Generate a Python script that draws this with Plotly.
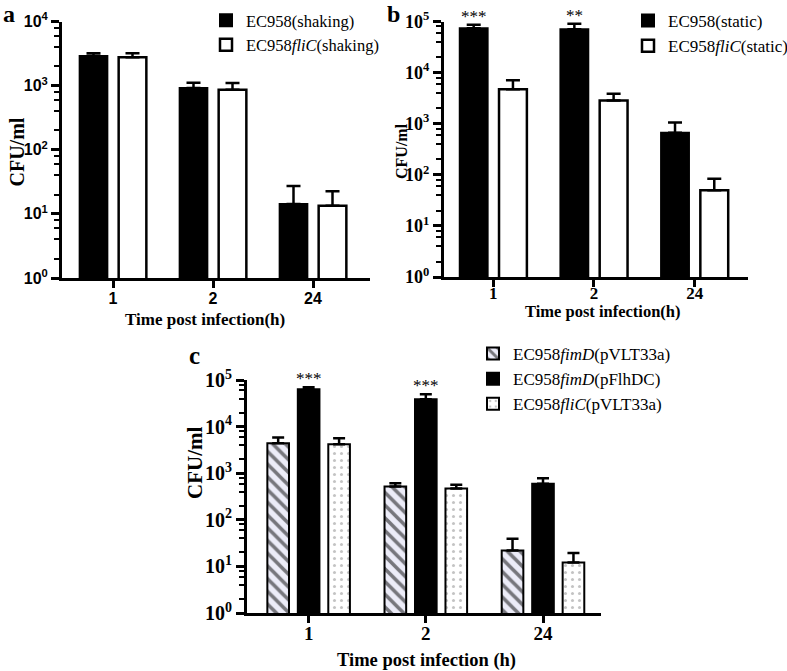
import math
import plotly.graph_objects as go

W, H = 787, 671

times = ["1", "2", "24"]

# Panel a (shaking)
a_wt = [2900, 920, 14.2]
a_wt_sem = [300, 190, 13]
a_flic = [2780, 865, 13.4]
a_flic_sem = [420, 235, 9.2]

# Panel b (static)
b_wt = [74000, 70800, 667]
b_wt_sem = [12000, 19200, 393]
b_flic = [4720, 2830, 50]
b_flic_sem = [2360, 1040, 34]
b_sig = ["***", "**", ""]

# Panel c
c_fimd_vec = [4400, 519, 22]
c_fimd_vec_sem = [1400, 93, 17]
c_fimd_flhdc = [63000, 38500, 591]
c_fimd_flhdc_sem = [7000, 10800, 191]
c_flic_vec = [4190, 470, 12.2]
c_flic_vec_sem = [1430, 94, 7.1]
c_sig = ["***", "***", ""]

SERIF = "Liberation Serif"
SANS = "Liberation Sans"
BARGAP, GROUPGAP = 0.22, 0.29


def px_x(p):
    return p / W


def px_y(p):
    return 1 - p / H


def err(sem, w=7):
    return dict(type="data", symmetric=False, array=sem, arrayminus=[0] * len(sem),
                color="black", thickness=2.5, width=w)


fig = go.Figure()

# ---- panel a
fig.add_trace(go.Bar(x=times, y=a_wt, error_y=err(a_wt_sem), name="EC958(shaking)",
                     marker=dict(color="black", line=dict(color="black", width=2)),
                     xaxis="x", yaxis="y", legend="legend", offsetgroup="a1"))
fig.add_trace(go.Bar(x=times, y=a_flic, error_y=err(a_flic_sem), name="EC958<i>fliC</i>(shaking)",
                     marker=dict(color="white", line=dict(color="black", width=2.5)),
                     xaxis="x", yaxis="y", legend="legend", offsetgroup="a2"))

# ---- panel b
fig.add_trace(go.Bar(x=times, y=b_wt, error_y=err(b_wt_sem), name="EC958(static)",
                     marker=dict(color="black", line=dict(color="black", width=2)),
                     xaxis="x2", yaxis="y2", legend="legend2", offsetgroup="b1"))
fig.add_trace(go.Bar(x=times, y=b_flic, error_y=err(b_flic_sem), name="EC958<i>fliC</i>(static)",
                     marker=dict(color="white", line=dict(color="black", width=2.5)),
                     xaxis="x2", yaxis="y2", legend="legend2", offsetgroup="b2"))

# ---- panel c
fig.add_trace(go.Bar(x=times, y=c_fimd_vec, error_y=err(c_fimd_vec_sem, 6),
                     name="EC958<i>fimD</i>(pVLT33a)",
                     marker=dict(color="#ececf8", line=dict(color="black", width=2),
                                 pattern=dict(shape="\\", fgcolor="black", bgcolor="#ececf8",
                                              size=9, solidity=0.4)),
                     xaxis="x3", yaxis="y3", legend="legend3", offsetgroup="c1"))
fig.add_trace(go.Bar(x=times, y=c_fimd_flhdc, error_y=err(c_fimd_flhdc_sem, 6),
                     name="EC958<i>fimD</i>(pFlhDC)",
                     marker=dict(color="black", line=dict(color="black", width=2)),
                     xaxis="x3", yaxis="y3", legend="legend3", offsetgroup="c2"))
fig.add_trace(go.Bar(x=times, y=c_flic_vec, error_y=err(c_flic_vec_sem, 6),
                     name="EC958<i>fliC</i>(pVLT33a)",
                     marker=dict(color="white", line=dict(color="black", width=2),
                                 pattern=dict(shape=".", fgcolor="#888888", bgcolor="white",
                                              size=7, solidity=0.15)),
                     xaxis="x3", yaxis="y3", legend="legend3", offsetgroup="c3"))


def yaxis(decades, dom_px, family, size, anchor):
    vals = [10 ** k for k in range(decades + 1)]
    minor = [m * 10 ** k for k in range(decades) for m in (2, 4, 6, 8)]
    return dict(type="log", range=[0, decades], domain=[px_y(dom_px[1]), px_y(dom_px[0])],
                anchor=anchor,
                tickvals=vals, ticktext=["10<sup>%d</sup>" % k for k in range(decades + 1)],
                ticks="outside", ticklen=8, tickwidth=3, tickcolor="black",
                minor=dict(tickvals=minor, ticks="outside", ticklen=5, tickwidth=2, tickcolor="black"),
                showline=True, linewidth=3, linecolor="black", showgrid=False, zeroline=False,
                tickfont=dict(family=family, size=size, color="black", weight="bold"),
                automargin=False, fixedrange=True)


def xaxis(dom_px, rng, anchor, family, size, standoff):
    return dict(type="category", domain=[px_x(dom_px[0]), px_x(dom_px[1])], range=rng,
                anchor=anchor, ticks="outside", ticklen=7, tickwidth=3, tickcolor="black",
                showline=True, linewidth=3, linecolor="black", showgrid=False,
                ticklabelstandoff=standoff,
                tickfont=dict(family=family, size=size, color="black", weight="bold"),
                automargin=False, fixedrange=True)


def legend(xp, yp, size):
    return dict(font=dict(family=SERIF, size=size, color="black"), bgcolor="rgba(0,0,0,0)",
                xanchor="left", yanchor="top", tracegroupgap=0, itemwidth=30,
                x=px_x(xp), y=px_y(yp))


fig.update_layout(
    width=W, height=H, margin=dict(l=0, r=0, t=0, b=0, autoexpand=False),
    paper_bgcolor="white", plot_bgcolor="white",
    barmode="group", bargap=BARGAP, bargroupgap=GROUPGAP,
    xaxis=xaxis((62, 370), [-0.51, 2.57], "y", SANS, 16, -3),
    yaxis=yaxis(4, (21.5, 278), SANS, 16, "x"),
    xaxis2=xaxis((444, 748), [-0.49, 2.53], "y2", SERIF, 17, -8),
    yaxis2=yaxis(5, (21.5, 277), SERIF, 18, "x2"),
    xaxis3=xaxis((247, 601), [-0.526, 2.495], "y3", SERIF, 19, -6),
    yaxis3=yaxis(5, (380, 613), SERIF, 20, "x3"),
    legend=legend(206, 3, 16.5),
    legend2=legend(628, 3, 17),
    legend3=legend(473, 336, 17),
    showlegend=True,
)

anns = []


def paper_text(text, xp, yp, size, angle=0):
    anns.append(dict(text=text, x=px_x(xp), y=px_y(yp), xref="paper", yref="paper",
                     xanchor="center", yanchor="middle", showarrow=False, textangle=angle,
                     font=dict(family=SERIF, size=size, color="black")))


# panel letters
paper_text("<b>a</b>", 8.5, 14, 24)
paper_text("<b>b</b>", 393, 14, 24)
paper_text("<b>c</b>", 194.5, 355.5, 25)
# axis titles
paper_text("<b>Time post infection(h)</b>", 205, 320, 17)
paper_text("<b>Time post infection(h)</b>", 603, 312, 16.5)
paper_text("<b>Time post infection (h)</b>", 427, 660, 18.5)
paper_text("<b>CFU/ml</b>", 16.5, 152, 20, -90)
paper_text("<b>CFU/ml</b>", 401, 151, 16, -90)
paper_text("<b>CFU/ml</b>", 195, 463, 21, -90)

# significance stars above the black bars (first bar of the 2-bar group / middle of 3-bar group)
b_off = -(1 - BARGAP) / 4
for i, s in enumerate(b_sig):
    if s:
        anns.append(dict(text=s, x=i + b_off, y=math.log10(b_wt[i] + b_wt_sem[i]), xref="x2", yref="y2",
                         xanchor="center", yanchor="bottom", showarrow=False, yshift=-3,
                         font=dict(family=SERIF, size=17, color="black")))
for i, s in enumerate(c_sig):
    if s:
        anns.append(dict(text=s, x=i, y=math.log10(c_fimd_flhdc[i] + c_fimd_flhdc_sem[i]), xref="x3",
                         yref="y3", xanchor="center", yanchor="bottom", showarrow=False, yshift=-3,
                         font=dict(family=SERIF, size=17, color="black")))
fig.update_layout(annotations=anns)

fig.write_html("out.html", config={"displayModeBar": False},
               post_script="document.body.style.margin='0px';")
